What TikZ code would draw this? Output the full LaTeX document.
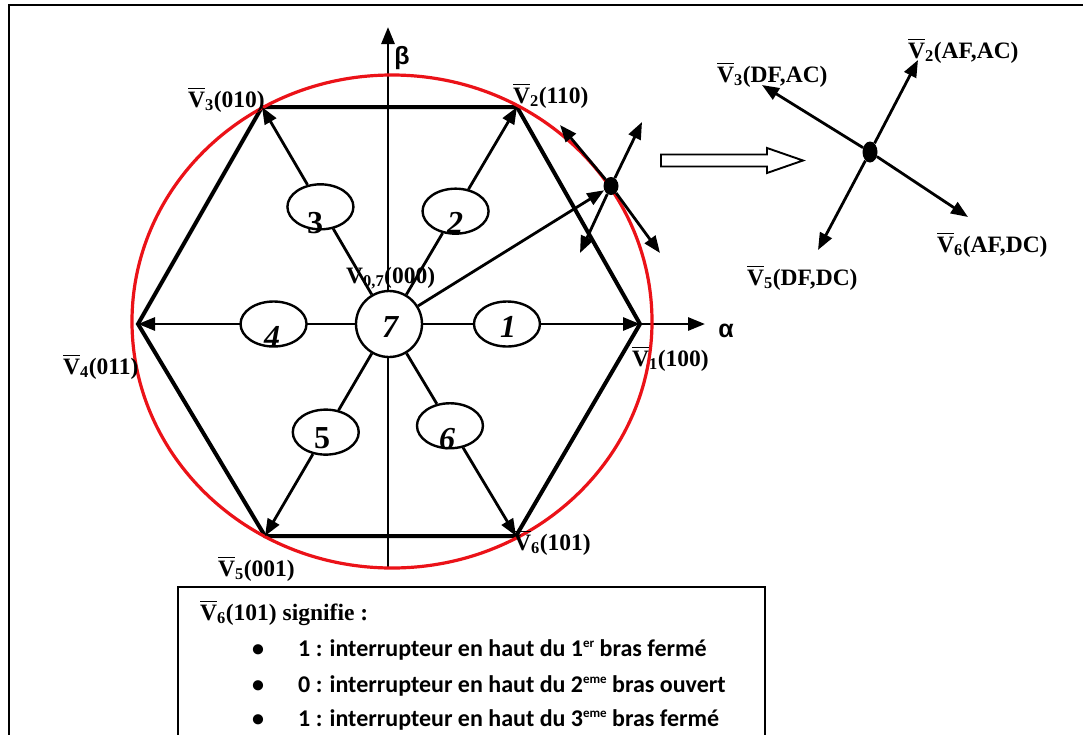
\documentclass[tikz,border=0pt]{standalone}
\usepackage{fontspec}
\usepackage{amsmath}
\setmainfont{Liberation Serif}
\newfontfamily\calib{Carlito}
\newfontfamily\greekf{Liberation Sans}
\usetikzlibrary{arrows.meta,shapes.geometric,calc}
\definecolor{circred}{RGB}{235,18,24}
% vector name with an overbar and an index
\newcommand\vbar[1]{$\overline{\mbox{V}}$\textsubscript{#1}}
% small raised ordinal suffix
\newcommand\ordsup[1]{\raisebox{0.75ex}{\fontsize{13}{14}\selectfont #1}}

\tikzset{
  hexline/.style={line width=4pt, line join=miter},
  plainline/.style={line width=2.8pt},
  spoke/.style={line width=2.8pt, -{Triangle[length=17pt,width=13pt]}},
  axisline/.style={line width=2.8pt, -{Triangle[length=17pt,width=13pt]}},
  sector/.style={ellipse, draw, line width=2.4pt, fill=white, minimum width=66pt, minimum height=45pt, inner sep=0pt},
  hub/.style={circle, draw, line width=2.4pt, fill=white, minimum size=66pt, inner sep=0pt},
  digit/.style={font=\fontsize{32}{34}\selectfont\bfseries, inner sep=0pt},
  lbl/.style={font=\fontsize{23.5}{26}\selectfont\bfseries, inner sep=0pt},
  greeklbl/.style={font=\greekf\fontsize{25}{27}\selectfont\bfseries, inner sep=0pt},
  boxtxt/.style={font=\calib\fontsize{24}{26}\selectfont\bfseries, inner sep=0pt, anchor=base west},
  blackdot/.style={ellipse, fill=black, inner sep=0pt},
}

\begin{document}
\begin{tikzpicture}[x=1pt,y=-1pt]
\clip (0,0) rectangle (1083,734);
\fill[white] (0,0) rectangle (1083,734);

% outer frame
\draw[line width=2.6pt] (1090,5) -- (9,5) -- (9,740);

% hexagon vertices and origin
\coordinate (O)  at (389,324);
\coordinate (V1) at (640,324);
\coordinate (V2) at (517,107);
\coordinate (V3) at (262,107);
\coordinate (V4) at (138,324);
\coordinate (V5) at (265,536);
\coordinate (V6) at (516,536);
\coordinate (bbot) at (388,568);
\coordinate (btop) at (388,27);
\coordinate (aend) at (705,324);

% zero vector label (lies under the lines)
\node[lbl, anchor=base west] (l0) at (346,283) {V\textsubscript{0,7}(000)};

% axes
\draw[axisline] (bbot) -- (btop);
\draw[axisline] (V4) -- (aend);
\node[greeklbl] (beta) at (402,58) {β};
\node[greeklbl] (alpha) at (726,331) {α};

% hexagon
\draw[hexline] (V1) -- (V2) -- (V3) -- (V4) -- (V5) -- (V6) -- cycle;

% circle of maximum amplitude
\draw[circred, line width=3.2pt] (392,321.5) ellipse [x radius=260, y radius=246.5];

% centre and sectors
\node[hub] (c7) at (O) {};
\node[sector] (e1) at ($(O)!0.47!(V1)$) {};
\node[sector] (e2) at ($(O)!0.52!(V2)$) {};
\node[sector] (e3) at ($(O)!0.54!(V3)$) {};
\node[sector] (e4) at ($(O)!0.46!(V4)$) {};
\node[sector] (e5) at ($(O)!0.51!(V5)$) {};
\node[sector] (e6) at ($(O)!0.48!(V6)$) {};

% spokes towards the active vectors
\foreach \k in {1,...,6}{
  \draw[plainline] (c7) -- (e\k);
  \draw[spoke] (e\k) -- (V\k);
}

% sector numbers
\node[digit] (n7) at (390,327) {\itshape 7};
\node[digit] (n1) at (508,327) {\itshape 1};
\node[digit] (n2) at (455,223) {\itshape 2};
\node[digit] (n3) at (315,223) {3};
\node[digit] (n4) at (272,337) {\itshape 4};
\node[digit] (n5) at (322,438) {5};
\node[digit] (n6) at (447,439) {\itshape 6};

% vertex labels
\node[lbl, anchor=base west] (lv1) at (632,366) {\vbar{1}(100)};
\node[lbl, anchor=base west] (lv2) at (513,103) {\vbar{2}(110)};
\node[lbl, anchor=base west] (lv3) at (188,107) {\vbar{3}(010)};
\node[lbl, anchor=base west] (lv4) at (63,374) {\vbar{4}(011)};
\node[lbl, anchor=base west] (lv5) at (218,576) {\vbar{5}(001)};
\node[lbl, anchor=base west] (lv6) at (514,550) {\vbar{6}(101)};

% reference vector on the circle and its neighbouring choices
\coordinate (t1) at (560,125);
\coordinate (t2) at (642,122);
\coordinate (t3) at (580,253);
\coordinate (t4) at (660,253);
\node[blackdot, minimum width=15pt, minimum height=18pt] (D1) at (611,186) {};
\draw[spoke] (c7) -- (D1);
\draw[spoke] (D1) -- (t1);
\draw[spoke] (D1) -- (t2);
\draw[spoke] (D1) -- (t3);
\draw[spoke] (D1) -- (t4);

% hollow arrow
\draw[line width=1.9pt, fill=white] (661,154.5) -- (767,154.5) -- (767,148) -- (803,160.5)
  -- (767,173) -- (767,166.5) -- (661,166.5) -- cycle;

% enlarged view
\coordinate (r2) at (918,60);
\coordinate (r3) at (762,85);
\coordinate (r5) at (818,250);
\coordinate (r6) at (968,217);
\node[blackdot, minimum width=15pt, minimum height=21pt] (D2) at (870,152) {};
\draw[spoke] (D2) -- (r2);
\draw[spoke] (D2) -- (r3);
\draw[spoke] (D2) -- (r5);
\draw[spoke] (D2) -- (r6);
\node[lbl, anchor=base west] (lr2) at (908,58) {\vbar{2}(AF,AC)};
\node[lbl, anchor=base west] (lr3) at (717,82) {\vbar{3}(DF,AC)};
\node[lbl, anchor=base west] (lr6) at (937,252) {\vbar{6}(AF,DC)};
\node[lbl, anchor=base west] (lr5) at (747,285) {\vbar{5}(DF,DC)};

% explanation box
\draw[line width=2.6pt] (178,745) rectangle (765,587);
\node[lbl, anchor=base west] (bt0) at (200,620) {\vbar{6}(101) signifie :};
\node[boxtxt] (b1) at (252,656) {•};
\node[boxtxt] (b2) at (252,692) {•};
\node[boxtxt] (b3) at (252,726) {•};
\node[boxtxt] (bt1) at (298,656) {1 : interrupteur en haut du 1\ordsup{er} bras fermé};
\node[boxtxt] (bt2) at (298,692) {0 : interrupteur en haut du 2\ordsup{eme} bras ouvert};
\node[boxtxt] (bt3) at (298,726) {1 : interrupteur en haut du 3\ordsup{eme} bras fermé};
\end{tikzpicture}
\end{document}
